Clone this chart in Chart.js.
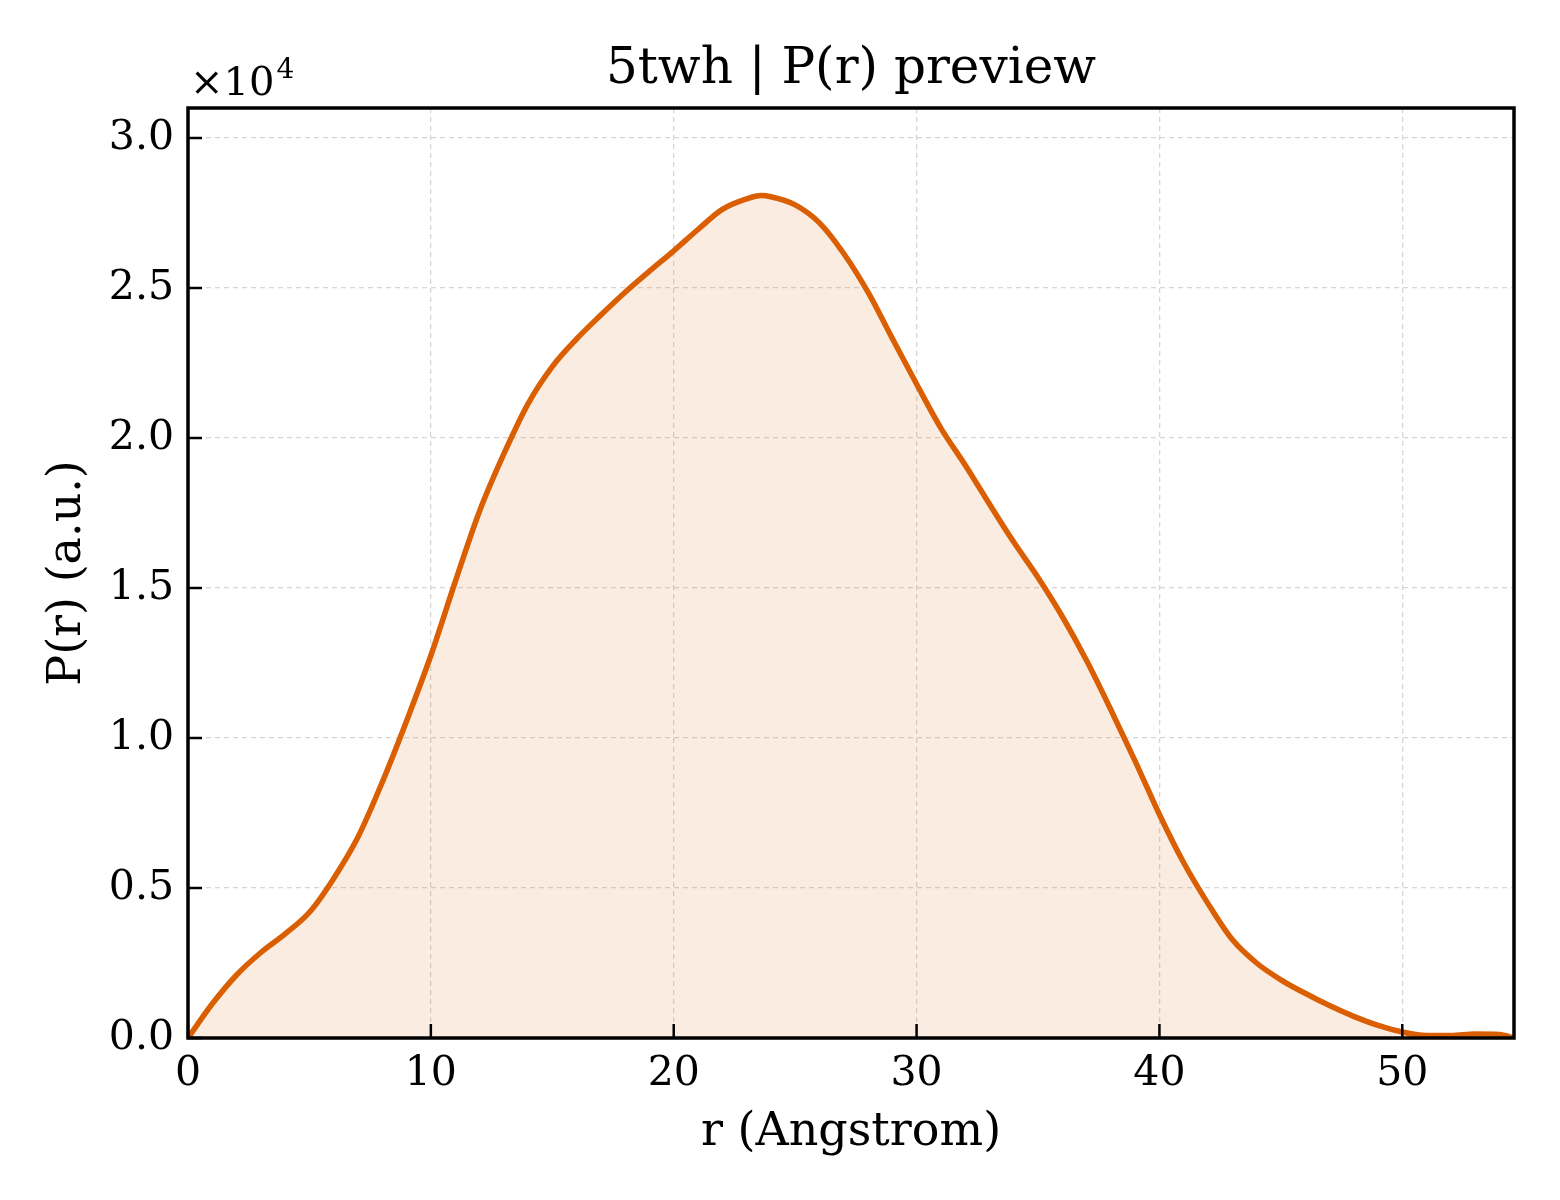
<!DOCTYPE html>
<html>
<head>
<meta charset="utf-8">
<script src="https://cdn.jsdelivr.net/npm/chart.js@4/dist/chart.umd.min.js"></script>
<style>
  html, body { margin: 0; padding: 0; background: #fff; }
  canvas { display: block; }
</style>
</head>
<body>
<canvas id="prChart" width="1560" height="1200"></canvas>
<script>
const rValues = [0, 1, 2, 3, 4, 5, 6, 7, 8, 9, 10, 11, 12, 13, 14, 15, 16, 17, 18, 19, 20,
  21, 22, 23, 23.6, 24, 25, 26, 27, 28, 29, 30, 31, 32, 33, 34, 35, 36, 37, 38, 39, 40,
  41, 42, 43, 44, 45, 46, 47, 48, 49, 50, 51, 52, 53, 54, 54.6];
const pValues = [0, 1140, 2100, 2850, 3470, 4190, 5320, 6700, 8530, 10570, 12750, 15200, 17550,
  19460, 21140, 22380, 23300, 24100, 24860, 25560, 26240, 26950, 27620, 27970, 28080, 28040,
  27770, 27170, 26150, 24860, 23320, 21800, 20330, 19100, 17800, 16530, 15350, 14050, 12580,
  10940, 9230, 7450, 5840, 4480, 3280, 2500, 1940, 1490, 1080, 720, 420, 200, 80, 80, 130, 120, 0];
const xTicks = [0, 10, 20, 30, 40, 50];
const yTicks = [0, 5000, 10000, 15000, 20000, 25000, 30000];

const serif = "'DejaVu Serif', serif";
const lineColor = 'rgb(217, 95, 2)';

// matplotlib-like frame, inward ticks and the offset text
const frameTicks = {
  id: 'frameTicks',
  afterDraw(chart) {
    const ctx = chart.ctx;
    const a = chart.chartArea;
    const xs = chart.scales.x, ys = chart.scales.y;
    ctx.save();
    ctx.strokeStyle = '#000';
    ctx.lineWidth = 2.5;
    xTicks.forEach(function(v) {
      const px = xs.getPixelForValue(v);
      ctx.beginPath();
      ctx.moveTo(px, a.bottom);
      ctx.lineTo(px, a.bottom - 14);
      ctx.stroke();
    });
    yTicks.forEach(function(v) {
      const py = ys.getPixelForValue(v);
      ctx.beginPath();
      ctx.moveTo(a.left, py);
      ctx.lineTo(a.left + 14, py);
      ctx.stroke();
    });
    ctx.lineWidth = 3.5;
    ctx.strokeRect(a.left, a.top, a.right - a.left, a.bottom - a.top);
    // x10^4
    ctx.fillStyle = '#000';
    ctx.textBaseline = 'alphabetic';
    ctx.textAlign = 'left';
    ctx.font = '40px ' + serif;
    ctx.fillText('\u00d710', a.left + 2, a.top - 13);
    const w = ctx.measureText('\u00d710').width;
    ctx.font = '28px ' + serif;
    ctx.fillText('4', a.left + 4 + w, a.top - 30);
    ctx.restore();
  }
};

new Chart(document.getElementById('prChart'), {
  type: 'line',
  data: {
    labels: rValues,
    datasets: [{
      data: rValues.map((r, i) => ({ x: r, y: pValues[i] })),
      borderColor: lineColor,
      backgroundColor: 'rgba(217, 95, 2, 0.12)',
      borderWidth: 5.5,
      pointRadius: 0,
      cubicInterpolationMode: 'monotone',
      fill: 'origin'
    }]
  },
  options: {
    responsive: false,
    devicePixelRatio: 1,
    animation: false,
    layout: { padding: { left: 40, right: 46, top: 0, bottom: 39 } },
    plugins: {
      legend: { display: false },
      tooltip: { enabled: false },
      title: {
        display: true,
        fullSize: false,
        text: '5twh | P(r) preview',
        color: '#000',
        font: { family: serif, size: 50, weight: 'normal' },
        padding: { top: 40, bottom: 8 }
      }
    },
    scales: {
      x: {
        type: 'linear',
        min: 0,
        max: 54.6,
        afterBuildTicks: s => { s.ticks = xTicks.map(v => ({ value: v })); },
        afterFit: s => { s.height = 123; },
        grid: { color: '#d6d6d6', lineWidth: 1.3, drawTicks: false },
        border: { display: false, dash: [5, 4] },
        ticks: {
          color: '#000',
          padding: 12,
          maxRotation: 0,
          font: { family: serif, size: 41 },
          callback: v => String(v)
        },
        title: {
          display: true,
          text: 'r (Angstrom)',
          color: '#000',
          padding: 0,
          font: { family: serif, size: 46 }
        }
      },
      y: {
        type: 'linear',
        min: 0,
        max: 31000,
        afterBuildTicks: s => { s.ticks = yTicks.map(v => ({ value: v })); },
        afterFit: s => { s.width = 148; },
        grid: { color: '#d6d6d6', lineWidth: 1.3, drawTicks: false },
        border: { display: false, dash: [5, 4] },
        ticks: {
          color: '#000',
          padding: 14,
          font: { family: serif, size: 41 },
          callback: v => (v / 10000).toFixed(1)
        },
        title: {
          display: true,
          text: 'P(r) (a.u.)',
          color: '#000',
          padding: 0,
          font: { family: serif, size: 46 }
        }
      }
    }
  },
  plugins: [frameTicks]
});
</script>
</body>
</html>
